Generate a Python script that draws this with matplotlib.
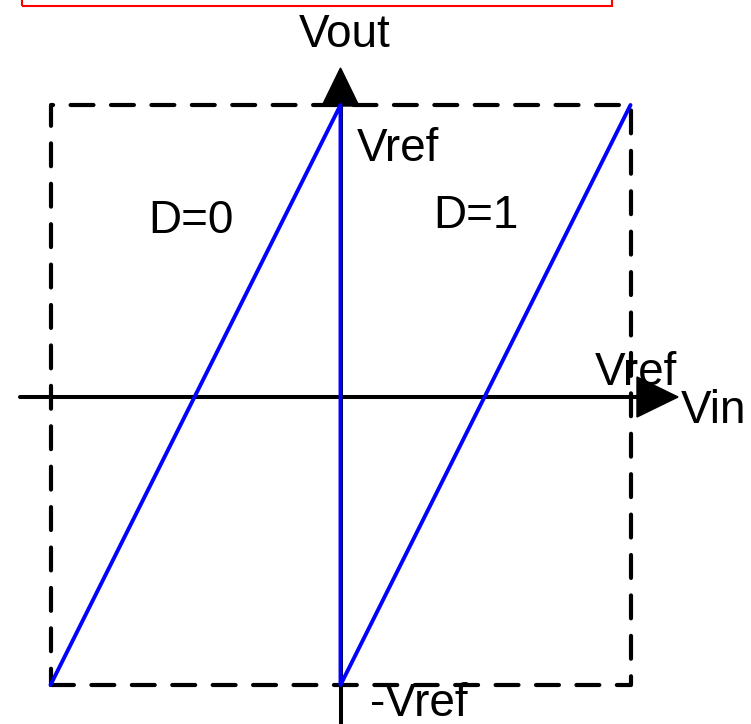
import matplotlib
matplotlib.use("Agg")
import matplotlib.pyplot as plt
from matplotlib.patches import Polygon, Rectangle

# Transfer characteristic (normalised to Vref)
vin = [-1, 0, 0, 1]
vout = [-1, 1, -1, 1]

# Full-scale box
box_x = [-1, 1, 1, -1, -1]
box_y = [-1, -1, 1, 1, -1]

# pixel -> data helpers (figure is 751x724 px, box spans 50..630 / 105..685)
W, H = 751, 724
CX, CY, S = 340.5, 395.0, 290.0
def dx(p): return (p - CX) / S
def dy(p): return (CY - p) / S

fig = plt.figure(figsize=(W / 100, H / 100), dpi=100)
ax = fig.add_axes([0, 0, 1, 1])
ax.set_xlim(dx(0), dx(W))
ax.set_ylim(dy(H), dy(0))
ax.axis("off")

plt.rcParams["font.family"] = ["Liberation Sans", "DejaVu Sans"]
fs = 33

# red frame clipped at the top
ax.add_patch(Rectangle((dx(22), dy(6)), dx(612) - dx(22), 1.0,
                       fill=False, edgecolor="red", lw=1.5))

# axes
ax.plot([dx(20), dx(640)], [dy(397), dy(397)], color="black", lw=2.9, solid_capstyle="round")
ax.plot([0, 0], [dy(H + 5), dy(100)], color="black", lw=2.9)
ax.add_patch(Polygon([(dx(637), dy(377)), (dx(678), dy(397)), (dx(637), dy(417))],
                     closed=True, color="black"))
ax.add_patch(Polygon([(dx(322), dy(106)), (dx(340.5), dy(68)), (dx(359), dy(106))],
                     closed=True, color="black"))

# dashed box
ax.plot(box_x, box_y, color="black", lw=3, linestyle=(0, (5.5, 4.2)),
        dash_capstyle="round")

# transfer curve
ax.plot(vin, vout, color="blue", lw=2.8, solid_capstyle="round", solid_joinstyle="round")

# labels
ax.text(dx(345), dy(47), "Vout", fontsize=fs, ha="center", va="baseline")
ax.text(dx(357), dy(161), "Vref", fontsize=fs, ha="left", va="baseline")
ax.text(dx(148), dy(233), "D=0", fontsize=fs, ha="left", va="baseline")
ax.text(dx(433), dy(228), "D=1", fontsize=fs, ha="left", va="baseline")
ax.text(dx(595), dy(385), "Vref", fontsize=fs, ha="left", va="baseline")
ax.text(dx(681), dy(423), "Vin", fontsize=fs, ha="left", va="baseline")
ax.text(dx(370), dy(716), "-Vref", fontsize=fs, ha="left", va="baseline")

fig.savefig("out.png", dpi=100)
